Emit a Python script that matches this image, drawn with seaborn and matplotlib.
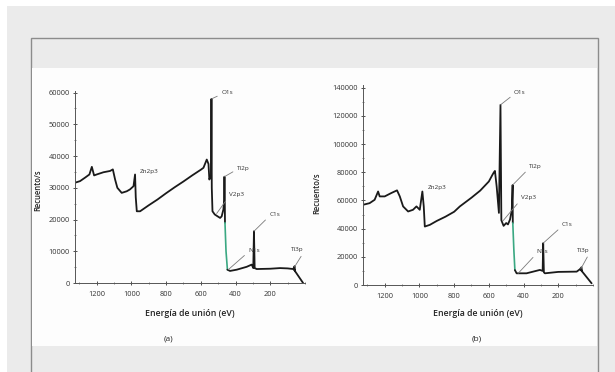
import matplotlib
matplotlib.use("Agg")
import matplotlib.pyplot as plt
import seaborn as sns
import pandas as pd
from matplotlib.patches import Rectangle
from matplotlib.ticker import MultipleLocator

# ---------------- data ----------------
# (a) spectrum: binding energy (eV) and counts/s
ev_a = [1325, 1296, 1267, 1242, 1228, 1215, 1200, 1161, 1123, 1107, 1094, 1081,
        1056, 1027, 1008, 988, 979, 975, 969, 950, 900, 850, 800, 750, 700, 650,
        600, 585, 566, 556, 551, 545, 541, 539, 537, 533, 520, 509, 489, 480, 470,
        466, 464, 462, 461]
cnt_a = [31600, 32100, 33200, 34200, 36600, 33900, 34200, 34900, 35300, 35800, 32600, 30000,
         28400, 28900, 29500, 30500, 34200, 27000, 22600, 22600, 24500, 26300, 28300, 30200, 32000, 33900,
         35700, 36300, 38900, 37500, 32600, 33500, 34000, 58000, 30000, 22600, 21600, 21200, 20500, 21000, 23200,
         26000, 33500, 26000, 19000]
ev_a_green = [461, 455, 447]
cnt_a_green = [19000, 10000, 4200]
ev_a_low = [447, 432, 393, 336, 307, 298, 294, 290, 278, 200, 144, 100, 68, 60, 57, 64, 57, 11]
cnt_a_low = [4200, 3800, 4200, 5100, 5800, 4700, 16300, 4700, 4400, 4500, 4700, 4600, 4400, 5300, 3700, 4400, 3700, 0]

# (b) spectrum
ev_b = [1325, 1287, 1258, 1238, 1229, 1200, 1162, 1129, 1113, 1094, 1065, 1037,
        1017, 998, 983, 975, 969, 940, 900, 850, 800, 767, 700, 650, 600, 579,
        571, 565, 555, 542, 533, 528, 515, 500, 490, 478, 468, 463, 462]
cnt_b = [56950, 58100, 60500, 66400, 62900, 62900, 65300, 67200, 62900, 55800, 52200, 53400,
         55800, 53400, 66400, 55800, 41500, 42700, 45500, 48500, 52000, 55800, 62000, 67000, 73500, 78300,
         80000, 81000, 70000, 51200, 127900, 46000, 42000, 44000, 43000, 46500, 53000, 71000, 44000]
ev_b_green = [462, 456, 450]
cnt_b_green = [44000, 25000, 10600]
ev_b_low = [450, 440, 383, 306, 290, 287, 283, 277, 200, 94, 75, 66, 64, 71, 64, 8]
cnt_b_low = [10600, 8300, 8300, 10700, 10000, 29700, 9000, 8300, 9300, 9500, 11200, 12600, 9800, 11200, 9800, 1200]

peak_labels = ["Zn2p3", "O1s", "Ti2p", "V2p3", "N1s", "C1s", "Ti3p"]
x_label = "Energía de unión (eV)"
y_label = "Recuento/s"
captions = ["(a)", "(b)"]

# ---------------- figure ----------------
sns.set_theme(style="white")
plt.rcParams["font.family"] = ["Open Sans", "DejaVu Sans"]

W, H = 615, 372
fig = plt.figure(figsize=(W / 100, H / 100), dpi=100, facecolor="#ebebeb")

def frac_rect(x0, y0, x1, y1, **kw):
    r = Rectangle((x0 / W, 1 - y1 / H), (x1 - x0) / W, (y1 - y0) / H,
                  transform=fig.transFigure, figure=fig, zorder=-5, **kw)
    fig.patches.append(r)

frac_rect(0, 0, W, 6, facecolor="white", edgecolor="none")
frac_rect(0, 0, 7, H, facecolor="white", edgecolor="none")
frac_rect(31, 38, 598, H + 5, facecolor="#ebebeb", edgecolor="#8c8c8c", lw=1.0)
frac_rect(32, 68, 597, 346, facecolor="#fdfdfd", edgecolor="none")

ax_a = fig.add_axes([75 / W, 1 - 283 / H, 230 / W, (283 - 91) / H])
ax_b = fig.add_axes([363 / W, 1 - 285 / H, 230 / W, (285 - 85) / H])

line_col = "#1a1a1a"
green = "#3aa882"

for ax, ev, cnt, evg, cg, evl, cl in [
    (ax_a, ev_a, cnt_a, ev_a_green, cnt_a_green, ev_a_low, cnt_a_low),
    (ax_b, ev_b, cnt_b, ev_b_green, cnt_b_green, ev_b_low, cnt_b_low),
]:
    ax.set_zorder(5)
    sns.lineplot(x=ev, y=cnt, sort=False, estimator=None, color=line_col, lw=1.3, ax=ax)
    sns.lineplot(x=evg, y=cg, sort=False, estimator=None, color=green, lw=1.2, ax=ax)
    sns.lineplot(x=evl, y=cl, sort=False, estimator=None, color=line_col, lw=1.3, ax=ax)
    ax.set_facecolor("none")
    ax.set_xlim(1325, 0)
    for s in ["top", "right"]:
        ax.spines[s].set_visible(False)
    for s in ["left", "bottom"]:
        ax.spines[s].set_color("#555555")
        ax.spines[s].set_linewidth(0.7)
    ax.xaxis.set_major_locator(MultipleLocator(200))
    ax.xaxis.set_minor_locator(MultipleLocator(100))
    ax.tick_params(which="major", direction="inout", length=3.5, width=0.6,
                   labelsize=5.3, colors="#333333", pad=2)
    ax.tick_params(which="minor", direction="inout", length=2, width=0.5, colors="#555555")
    ax.tick_params(axis="x", which="major", pad=4)
    ax.tick_params(axis="both", which="both", bottom=True, left=True)
    ax.set_xlabel("")
    ax.set_ylabel("")
    ax.set_xticks([1200, 1000, 800, 600, 400, 200])
    ax.set_xticklabels(["1200", "1000", "800", "600", "400", "200"])

ax_a.set_ylim(0, 60500)
ax_a.yaxis.set_major_locator(MultipleLocator(10000))
ax_a.yaxis.set_minor_locator(MultipleLocator(5000))
ax_b.set_ylim(0, 142000)
ax_b.yaxis.set_major_locator(MultipleLocator(20000))
ax_b.yaxis.set_minor_locator(MultipleLocator(10000))

lead = dict(arrowstyle="-", color="#7a7a7a", lw=0.6, shrinkA=0.5, shrinkB=0)
fs = 4.6

def place(ax, xy_list, txt_list):
    for name, xy, txt in zip(peak_labels, xy_list, txt_list):
        if xy is None:
            ax.text(txt[0], txt[1], name, fontsize=fs, ha="left", va="center", color="#333333")
        elif name == "Ti3p":
            ax.annotate(name, xy=xy, xytext=txt, textcoords="data", fontsize=fs, ha="center",
                        va="center", color="#333333", arrowprops=dict(lead, relpos=(1, 0)))
        else:
            ax.annotate(name, xy=xy, xytext=txt, textcoords="data", fontsize=fs, ha="left",
                        va="center", color="#333333", arrowprops=dict(lead, relpos=(0, 0.2)))

place(ax_a,
      [None, (539, 58000), (464, 33500), (509, 21900), (442, 4200), (294, 16300), (60, 5100)],
      [(950, 35100), (483, 59900), (393, 36200), (437, 27800), (327, 10200), (206, 21500), (45, 10400)])
place(ax_b,
      [None, (533, 127900), (463, 71000), (519, 45500), (431, 8300), (287, 29700), (70, 11500)],
      [(952, 68900), (455, 136500), (368, 83900), (415, 61800), (324, 23500), (180, 42600), (57, 24400)])

txt_col = "#222222"
fig.text(190 / W, 1 - 314 / H, x_label, fontsize=6.3, ha="center", va="center", color=txt_col, weight="semibold")
fig.text(478 / W, 1 - 314 / H, x_label, fontsize=6.3, ha="center", va="center", color=txt_col, weight="semibold")
fig.text(38 / W, 1 - 190 / H, y_label, fontsize=5.5, rotation=90, ha="center", va="center", color=txt_col, weight="semibold")
fig.text(317 / W, 1 - 193 / H, y_label, fontsize=5.5, rotation=90, ha="center", va="center", color=txt_col, weight="semibold")
fig.text(168 / W, 1 - 339 / H, captions[0], fontsize=6, ha="center", va="center", color=txt_col)
fig.text(477 / W, 1 - 339 / H, captions[1], fontsize=6, ha="center", va="center", color=txt_col)

fig.savefig("out.png", dpi=100, facecolor=fig.get_facecolor())
